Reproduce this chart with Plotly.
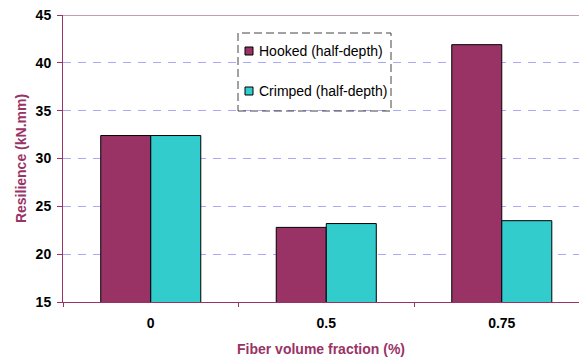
import plotly.graph_objects as go

# Fiber volume fractions (%) and measured resilience (kN.mm)
fractions = ["0", "0.5", "0.75"]
hooked = [32.4, 22.8, 41.9]
crimped = [32.4, 23.2, 23.5]

series_names = ["Hooked (half-depth)", "Crimped (half-depth)"]
hooked_color = "#993366"
crimped_color = "#33CCCC"
accent = "#993366"
font_family = "Liberation Sans, Arial, sans-serif"

# plot area geometry in pixels (used to place the legend box)
W, H = 580, 358
ML, MR, MT, MB = 63, 1, 15, 56
PW, PH = W - ML - MR, H - MT - MB


def px_x(x):
    return (x - ML) / PW


def px_y(y):
    return 1 - (y - MT) / PH


fig = go.Figure()

for name, vals, color in [(series_names[0], hooked, hooked_color),
                          (series_names[1], crimped, crimped_color)]:
    fig.add_trace(go.Bar(
        x=fractions, y=vals, name=name,
        marker=dict(color=color, line=dict(color="black", width=1)),
        showlegend=False,
    ))

# Hand-built legend: dashed frame, square swatches and labels
shapes = [
    dict(type="line", xref="paper", yref="y", x0=0, x1=1, y0=45, y1=45,
         line=dict(color=accent, width=1)),
    dict(type="rect", xref="paper", yref="paper",
         x0=px_x(238), x1=px_x(391), y0=px_y(111), y1=px_y(33),
         line=dict(color="#444444", width=1, dash="8px,4px"),
         fillcolor="rgba(0,0,0,0)"),
]
annotations = []
for name, color, yc in [(series_names[0], hooked_color, 51),
                        (series_names[1], crimped_color, 91)]:
    shapes.append(dict(type="rect", xref="paper", yref="paper",
                       x0=px_x(245), x1=px_x(253), y0=px_y(yc + 4), y1=px_y(yc - 4),
                       line=dict(color="black", width=1), fillcolor=color))
    annotations.append(dict(xref="paper", yref="paper", x=px_x(257), y=px_y(yc),
                            xanchor="left", yanchor="middle", showarrow=False,
                            text=name,
                            font=dict(size=14, color="black", family=font_family)))

fig.update_layout(
    width=W, height=H,
    margin=dict(l=ML, r=MR, t=MT, b=MB),
    paper_bgcolor="white", plot_bgcolor="white",
    barmode="group", bargap=0.43, bargroupgap=0,
    font=dict(family=font_family, color="black"),
    showlegend=False,
    xaxis=dict(
        type="category", range=[-0.5, 2.44],
        showline=True, linecolor=accent, linewidth=1,
        ticks="outside", tickson="boundaries", ticklen=4, tickcolor=accent,
        showgrid=False,
        ticklabelstandoff=8,
        tickfont=dict(size=14, color="black", weight="bold"),
        title=dict(text="Fiber volume fraction (%)", standoff=14,
                   font=dict(size=14, color=accent, weight="bold")),
    ),
    yaxis=dict(
        range=[15, 45], dtick=5, tick0=15,
        showline=True, linecolor=accent, linewidth=1,
        ticks="outside", ticklen=5, tickcolor=accent,
        showgrid=True, gridcolor="#A8A8FF", griddash="8px,7px", gridwidth=1,
        zeroline=False,
        ticklabelstandoff=3,
        tickfont=dict(size=14, color="black", weight="bold"),
        title=dict(text="Resilience (kN.mm)", standoff=5,
                   font=dict(size=14, color=accent, weight="bold")),
    ),
    shapes=shapes,
    annotations=annotations,
)

fig.write_html("out.html")
